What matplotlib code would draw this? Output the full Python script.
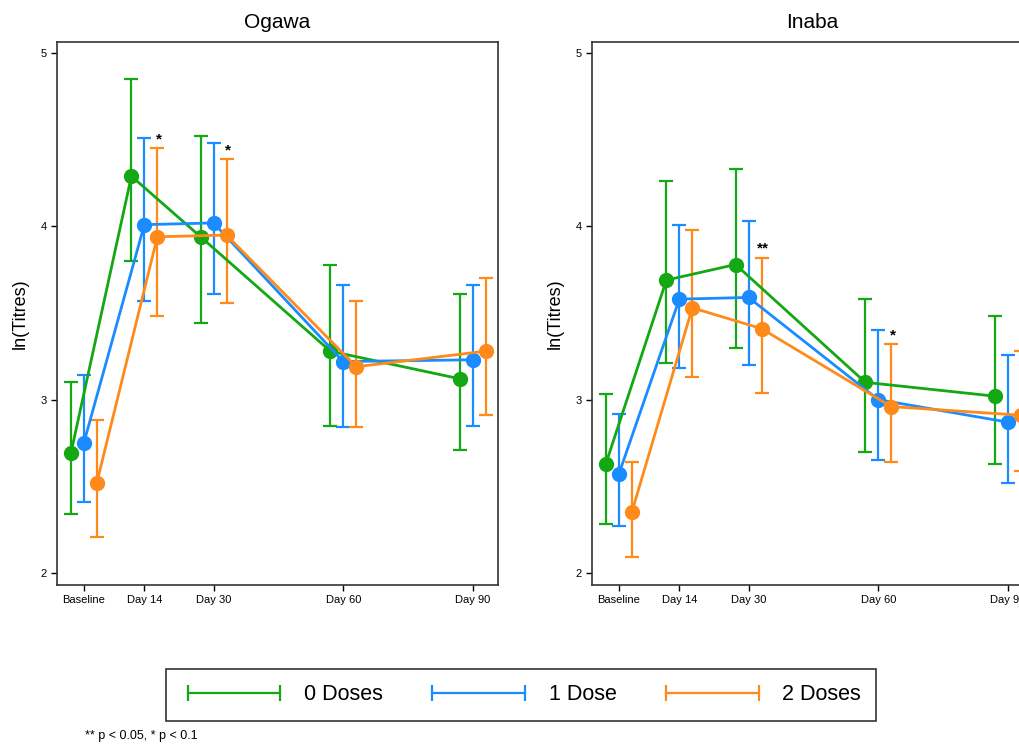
import numpy as np
import matplotlib.pyplot as plt
from matplotlib.lines import Line2D

plt.rcParams['font.family'] = ['Liberation Sans', 'DejaVu Sans']

# time points (days) and labels
days = [0, 14, 30, 60, 90]
day_labels = ["Baseline", "Day 14", "Day 30", "Day 60", "Day 90"]
groups = ["0 Doses", "1 Dose", "2 Doses"]
colors = ["#14a814", "#1a8cff", "#ff8a1a"]
offsets = [-3, 0, 3]

# Ogawa: mean ln(titre), lower CI, upper CI per group
ogawa_mean = [[2.69, 4.29, 3.94, 3.28, 3.12],
              [2.75, 4.01, 4.02, 3.22, 3.23],
              [2.52, 3.94, 3.95, 3.19, 3.28]]
ogawa_lo = [[2.34, 3.80, 3.44, 2.85, 2.71],
            [2.41, 3.57, 3.61, 2.84, 2.85],
            [2.21, 3.48, 3.56, 2.84, 2.91]]
ogawa_hi = [[3.10, 4.85, 4.52, 3.78, 3.61],
            [3.14, 4.51, 4.48, 3.66, 3.66],
            [2.88, 4.45, 4.39, 3.57, 3.70]]

# Inaba
inaba_mean = [[2.63, 3.69, 3.78, 3.10, 3.02],
              [2.57, 3.58, 3.59, 3.00, 2.87],
              [2.35, 3.53, 3.41, 2.96, 2.91]]
inaba_lo = [[2.28, 3.21, 3.30, 2.70, 2.63],
            [2.27, 3.18, 3.20, 2.65, 2.52],
            [2.09, 3.13, 3.04, 2.64, 2.59]]
inaba_hi = [[3.03, 4.26, 4.33, 3.58, 3.48],
            [2.92, 4.01, 4.03, 3.40, 3.26],
            [2.64, 3.98, 3.82, 3.32, 3.28]]

# significance marks: (time index, label)
ogawa_sig = [(1, "*"), (2, "*")]
inaba_sig = [(2, "**"), (3, "*")]

fig = plt.figure(figsize=(10.2, 7.51), dpi=100)
ax1 = fig.add_axes([0.0559, 0.221, 0.4324, 0.723])
ax2 = fig.add_axes([0.5804, 0.221, 0.4324, 0.723])


def draw_panel(ax, title, mean, lo, hi, sig):
    for g in range(3):
        x = np.array(days) + offsets[g]
        m = np.array(mean[g])
        err = [m - np.array(lo[g]), np.array(hi[g]) - m]
        ax.errorbar(x, m, yerr=err, color=colors[g], marker='o', markersize=10,
                    lw=2, elinewidth=1.6, capsize=5, capthick=1.6, zorder=3)
    for i, s in sig:
        ax.text(days[i] + offsets[2] + 0.3, hi[2][i] + 0.01, s, ha='center',
                va='bottom', fontsize=11, fontweight='bold', color='black')
    ax.set_xlim(-6.2, 95.8)
    ax.set_ylim(1.93, 5.064)
    ax.set_xticks(days)
    ax.set_xticklabels(day_labels, fontsize=8)
    ax.set_yticks([2, 3, 4, 5])
    ax.set_yticklabels(["2", "3", "4", "5"], fontsize=8)
    ax.tick_params(direction='out', length=4, width=1)
    for sp in ax.spines.values():
        sp.set_linewidth(1.2)
        sp.set_color('#333333')
    ax.set_ylabel("ln(Titres)", fontsize=13, labelpad=8)
    ax.set_title(title, fontsize=15, pad=10)


draw_panel(ax1, "Ogawa", ogawa_mean, ogawa_lo, ogawa_hi, ogawa_sig)
draw_panel(ax2, "Inaba", inaba_mean, inaba_lo, inaba_hi, inaba_sig)

handles = [Line2D([], [], color=c, marker='|', markersize=12, markeredgewidth=1.6, lw=1.6)
           for c in colors]
leg = fig.legend(handles, groups, loc='center', bbox_to_anchor=(0.511, 0.0746),
                 ncol=3, numpoints=2, handlelength=4.9, fontsize=15.5, frameon=True,
                 fancybox=False, edgecolor='black', columnspacing=2.0,
                 borderpad=0.7, handletextpad=0.8)
leg.get_frame().set_linewidth(1.2)

fig.text(0.083, 0.012, "** p < 0.05, * p < 0.1", fontsize=9, ha='left', va='bottom')

fig.savefig("out.png", dpi=100)
